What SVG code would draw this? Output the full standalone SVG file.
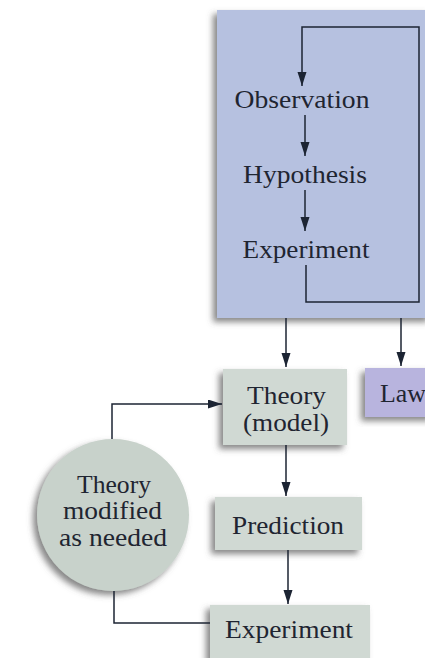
<svg xmlns="http://www.w3.org/2000/svg" width="425" height="658" viewBox="0 0 425 658">
<defs>
<filter id="sh" x="-20%" y="-20%" width="140%" height="140%">
<feDropShadow dx="-4" dy="4" stdDeviation="3" flood-color="#555" flood-opacity="0.7"/>
</filter>
<marker id="ah" markerUnits="userSpaceOnUse" markerWidth="14" markerHeight="10" refX="14" refY="4.5" orient="auto">
<path d="M0,0 L14,4.5 L0,9 z" fill="#1c2433"/>
</marker>
<style>
text{font-family:"Liberation Serif","Times New Roman",serif;font-size:25px;fill:#1f2531;text-anchor:middle}
.c{fill:none;stroke:#1c2433;stroke-width:1.5}
.a{marker-end:url(#ah)}
</style>
</defs>
<rect width="425" height="658" fill="#ffffff"/>
<g id="method">
<rect x="217" y="10" width="215" height="308" fill="#b6c1e0" filter="url(#sh)"/>
<text x="302" y="108" textLength="135" lengthAdjust="spacingAndGlyphs">Observation</text>
<text x="305" y="183" textLength="124" lengthAdjust="spacingAndGlyphs">Hypothesis</text>
<text x="306" y="258" textLength="127" lengthAdjust="spacingAndGlyphs">Experiment</text>
</g>
<g id="theory">
<rect x="223" y="369" width="124" height="76" fill="#d0d9d3" filter="url(#sh)"/>
<text x="286.5" y="404" textLength="79" lengthAdjust="spacingAndGlyphs">Theory</text>
<text x="286" y="431" textLength="86" lengthAdjust="spacingAndGlyphs">(model)</text>
</g>
<g id="law">
<rect x="365" y="368" width="70" height="49" fill="#b8b4de" filter="url(#sh)"/>
<text x="403" y="402" textLength="46" lengthAdjust="spacingAndGlyphs">Law</text>
</g>
<g id="modified">
<circle cx="113" cy="515" r="76" fill="#c8d2cb" filter="url(#sh)"/>
<text x="114" y="493" textLength="74" lengthAdjust="spacingAndGlyphs">Theory</text>
<text x="112.5" y="519" textLength="99" lengthAdjust="spacingAndGlyphs">modified</text>
<text x="113" y="546" textLength="108" lengthAdjust="spacingAndGlyphs">as needed</text>
</g>
<g id="prediction">
<rect x="215" y="497" width="147" height="53" fill="#d0d9d3" filter="url(#sh)"/>
<text x="288" y="534" textLength="112" lengthAdjust="spacingAndGlyphs">Prediction</text>
</g>
<g id="experiment2">
<rect x="210" y="605" width="160" height="55" fill="#d0d9d3" filter="url(#sh)"/>
<text x="289" y="638" textLength="128" lengthAdjust="spacingAndGlyphs">Experiment</text>
</g>
<g id="connectors">
<path class="c a" d="M306,265 V302 H419 V27 H302 V86"/>
<path class="c a" d="M305,115 V156"/>
<path class="c a" d="M305,190 V231"/>
<path class="c a" d="M286,318 V367"/>
<path class="c a" d="M401,318 V366"/>
<path class="c a" d="M112,439 V404 H222"/>
<path class="c a" d="M286,445 V496"/>
<path class="c a" d="M288,550 V604"/>
<path class="c" d="M114,591 V623 H210"/>
</g>
</svg>
